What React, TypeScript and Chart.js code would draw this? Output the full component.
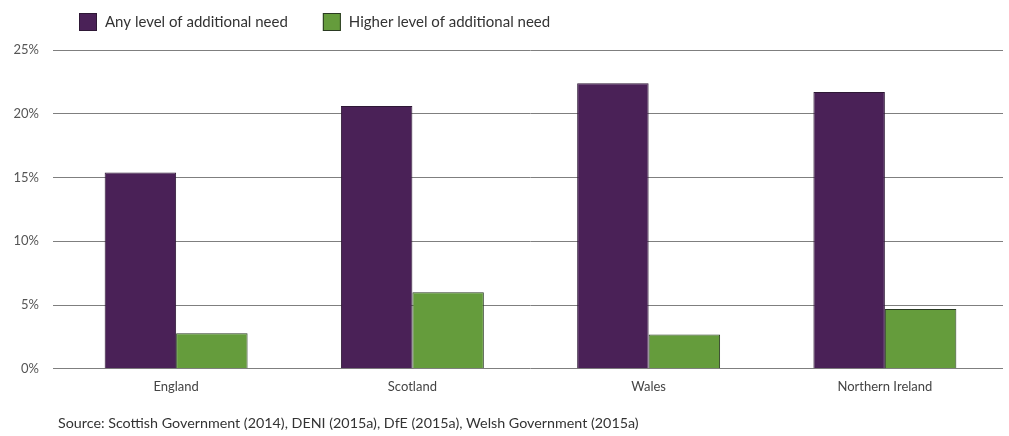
import React, { useEffect, useRef } from "react";
import { Chart, registerables } from "chart.js";

Chart.register(...registerables);

const categories = ["England", "Scotland", "Wales", "Northern Ireland"];
const anyLevel = [15.4, 20.6, 22.4, 21.7];
const higherLevel = [2.8, 6.0, 2.7, 4.7];
const yTicks = [0, 5, 10, 15, 20, 25];
const seriesNames = ["Any level of additional need", "Higher level of additional need"];
const seriesColors = ["#4a2157", "#659c3c"];
const seriesBorders = ["#2e1836", "#2a3a22"];
const sourceText = "Source: Scottish Government (2014), DENI (2015a), DfE (2015a), Welsh Government (2015a)";

const FONT = "Lato, 'Open Sans', sans-serif";

const legendPlugin = {
  id: "customLegend",
  afterDraw(chart: any) {
    const ctx = chart.ctx;
    ctx.save();
    ctx.font = `15px ${FONT}`;
    ctx.textBaseline = "middle";
    ctx.textAlign = "left";
    let x = 79;
    const top = 13;
    const box = 18;
    chart.data.datasets.forEach((ds: any) => {
      ctx.fillStyle = ds.backgroundColor;
      ctx.fillRect(x, top, box, box);
      ctx.strokeStyle = ds.borderColor;
      ctx.lineWidth = 1;
      ctx.strokeRect(x + 0.5, top + 0.5, box - 1, box - 1);
      ctx.fillStyle = "#333";
      const tx = x + box + 8;
      ctx.fillText(ds.label, tx, top + box / 2);
      x = tx + ctx.measureText(ds.label).width + 35;
    });
    ctx.restore();
  },
};

export default function App() {
  const ref = useRef<HTMLCanvasElement | null>(null);
  useEffect(() => {
    if (!ref.current) return;
    const chart = new Chart(ref.current, {
      type: "bar",
      data: {
        labels: categories,
        datasets: [anyLevel, higherLevel].map((d, i) => ({
          label: seriesNames[i],
          data: d,
          backgroundColor: seriesColors[i],
          borderColor: seriesBorders[i],
          borderWidth: 1,
          categoryPercentage: 0.605,
          barPercentage: 1.0,
        })),
      },
      options: {
        animation: false,
        responsive: true,
        maintainAspectRatio: false,
        layout: { padding: { left: 0, right: 6, top: 50, bottom: 0 } },
        plugins: {
          legend: { display: false },
          title: {
            display: true,
            position: "bottom",
            align: "start",
            fullSize: false,
            text: sourceText,
            color: "#333",
            font: { family: FONT, size: 14.3, weight: "normal", lineHeight: 1.2 },
            padding: { top: 14, bottom: 4.4 },
          },
          tooltip: { enabled: false },
        },
        scales: {
          x: {
            grid: { display: false, drawTicks: false },
            border: { display: false },
            ticks: { color: "#444", font: { family: FONT, size: 13 }, padding: 10 },
            afterFit: (axis: any) => {
              axis.height = 31.6;
            },
          },
          y: {
            min: 0,
            max: 25,
            afterBuildTicks: (axis: any) => {
              axis.ticks = yTicks.map((v) => ({ value: v }));
            },
            afterFit: (axis: any) => {
              axis.width = 58;
            },
            grid: {
              color: "#7f7f7f",
              lineWidth: 1,
              drawTicks: true,
              tickLength: 5,
              tickColor: "#7f7f7f",
            },
            border: { display: false },
            ticks: {
              color: "#555",
              padding: 14,
              font: { family: FONT, size: 13 },
              callback: (v: any) => v + "%",
            },
          },
        },
      },
      plugins: [legendPlugin],
    });
    return () => chart.destroy();
  }, []);
  return (
    <div style={{ position: "absolute", left: 0, top: 0, width: 1009, height: 436, background: "#fff" }}>
      <canvas ref={ref} />
    </div>
  );
}
